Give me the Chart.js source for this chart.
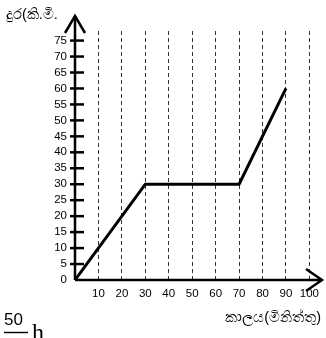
<!DOCTYPE html>
<html>
<head>
<meta charset="utf-8">
<script src="https://cdn.jsdelivr.net/npm/chart.js@4"></script>
<style>
  html, body { margin: 0; padding: 0; background: #fff; }
  #wrap { width: 326px; height: 338px; }
</style>
</head>
<body>
<div id="wrap"><canvas id="myChart" width="326" height="338"></canvas></div>
<script>
// time in minutes, distance in km
const timeMin = [0, 30, 70, 90];
const distKm = [0, 30, 30, 60];
const xTitle = 'කාලය(මිනිත්තු)';
const yTitle = 'දුර(කි.මී.';
const noteTop = '50';
const noteBottom = 'h';

const FONT = '"Liberation Sans", "Noto Sans", sans-serif';

// axes with arrow heads, little cross ticks on the y axis, and the text bits
const axesPlugin = {
  id: 'axesPlugin',
  afterDatasetsDraw(chart) {
    const ctx = chart.ctx;
    const xs = chart.scales.x;
    const ys = chart.scales.y;
    const x0 = xs.getPixelForValue(0);
    const y0 = ys.getPixelForValue(0);

    ctx.save();
    ctx.strokeStyle = '#000';
    ctx.lineWidth = 2.5;
    ctx.lineCap = 'butt';

    // y axis + arrow
    ctx.beginPath();
    ctx.moveTo(x0, y0);
    ctx.lineTo(x0, 16);
    ctx.stroke();
    ctx.beginPath();
    ctx.moveTo(x0 - 10, 33);
    ctx.lineTo(x0, 16);
    ctx.lineTo(x0 + 10, 33);
    ctx.stroke();

    // x axis + arrow
    ctx.beginPath();
    ctx.moveTo(x0, y0);
    ctx.lineTo(322, y0);
    ctx.stroke();
    ctx.beginPath();
    ctx.moveTo(306, y0 - 11);
    ctx.lineTo(322, y0);
    ctx.lineTo(306, y0 + 11);
    ctx.stroke();

    // y tick marks crossing the axis
    ys.ticks.forEach(t => {
      if (t.value === 0) return;
      const py = ys.getPixelForValue(t.value);
      ctx.beginPath();
      ctx.moveTo(x0 - 5, py);
      ctx.lineTo(x0 + 9, py);
      ctx.stroke();
    });

    ctx.fillStyle = '#000';
    ctx.font = '14.5px ' + FONT;
    ctx.textBaseline = 'middle';
    ctx.textAlign = 'left';
    ctx.fillText(yTitle, 6, 15);
    ctx.textAlign = 'right';
    ctx.fillText(xTitle, 321, 318);

    // the cut-off fraction at the bottom left
    ctx.textAlign = 'left';
    ctx.textBaseline = 'alphabetic';
    ctx.font = '17px ' + FONT;
    ctx.fillText(noteTop, 4, 325);
    ctx.lineWidth = 1.4;
    ctx.beginPath();
    ctx.moveTo(4, 332.5);
    ctx.lineTo(28, 332.5);
    ctx.stroke();
    ctx.font = '24px "Liberation Serif", "DejaVu Serif", serif';
    ctx.fillText(noteBottom, 32, 340);
    ctx.restore();
  }
};

new Chart(document.getElementById('myChart'), {
  type: 'scatter',
  data: {
    datasets: [{
      data: timeMin.map((t, i) => ({ x: t, y: distKm[i] })),
      showLine: true,
      borderColor: '#000',
      borderWidth: 3,
      pointRadius: 0,
      tension: 0,
      fill: false
    }]
  },
  options: {
    responsive: false,
    animation: false,
    layout: { padding: { left: 0, right: 15, top: 31, bottom: 0 } },
    plugins: { legend: { display: false }, tooltip: { enabled: false } },
    scales: {
      x: {
        type: 'linear',
        min: 0,
        max: 100,
        afterFit(scale) { scale.height = 58; },
        grid: {
          drawTicks: false,
          lineWidth: 1,
          color: ctx => (ctx.tick && ctx.tick.value === 0) ? 'rgba(0,0,0,0)' : '#333'
        },
        border: { display: false, dash: [4, 3] },
        ticks: {
          stepSize: 10,
          padding: 7,
          color: '#000',
          font: { family: FONT, size: 11.5 },
          maxRotation: 0,
          autoSkip: false,
          callback: v => v === 0 ? '' : v
        }
      },
      y: {
        type: 'linear',
        min: 0,
        max: 78,
        afterFit(scale) { scale.width = 75; },
        grid: { display: false, drawTicks: false },
        border: { display: false },
        ticks: {
          stepSize: 5,
          includeBounds: false,
          padding: 8,
          color: '#000',
          font: { family: FONT, size: 11.5 },
          autoSkip: false
        }
      }
    }
  },
  plugins: [axesPlugin]
});
</script>
</body>
</html>
